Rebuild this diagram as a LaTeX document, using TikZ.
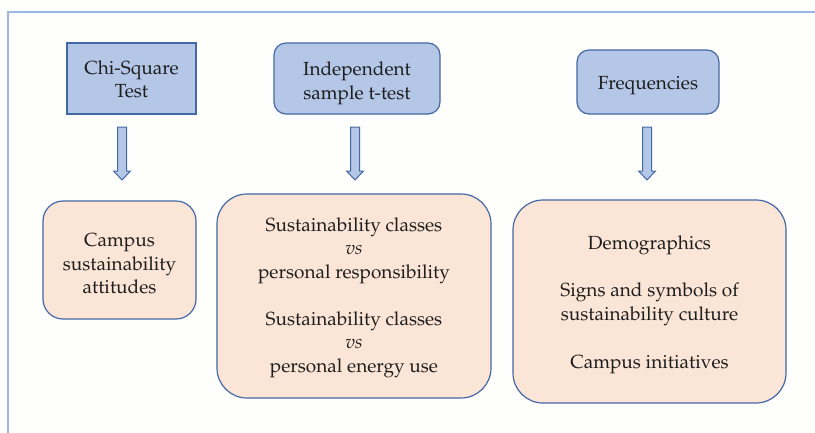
\documentclass[tikz,border=0pt]{standalone}
\usepackage[T1]{fontenc}
\renewcommand{\rmdefault}{ppl}
\usetikzlibrary{positioning}
\definecolor{pagebg}{HTML}{FEFEFC}
\definecolor{framecol}{HTML}{9DB7E3}
\definecolor{topfill}{HTML}{B4C7E7}
\definecolor{botfill}{HTML}{FBE5D6}
\definecolor{edgecol}{HTML}{4468A6}
\definecolor{inkcol}{HTML}{1E1E1E}
\tikzset{
  testbox/.style={draw=edgecol, fill=topfill, line width=1.2pt, inner sep=0pt},
  resultbox/.style={draw=edgecol, fill=botfill, line width=1.2pt, inner sep=0pt},
  boxtext/.style={align=center, text=inkcol, inner sep=0pt,
    font=\fontsize{19}{23.5}\selectfont},
  arrowstyle/.style={draw=edgecol, fill=topfill, line width=1pt, line join=miter},
  downarrow/.pic={
    \draw[arrowstyle] (-4.5,0) -- (4.5,0) -- (4.5,44) -- (8.5,44) -- (0,53)
      -- (-8.5,44) -- (-4.5,44) -- cycle;
  }
}
\begin{document}
\begin{tikzpicture}[x=1pt,y=-1pt]
  % page and outer frame
  \useasboundingbox (0,0) rectangle (815,432);
  \fill[pagebg] (0,0) rectangle (815,432);
  \begin{scope}
    \clip (0,0) rectangle (815,432);
    \draw[framecol, line width=1.3pt] (8,12) rectangle (840,460);
  \end{scope}

  % analysis methods
  \node[testbox, minimum width=129pt, minimum height=71pt] (chi) at (131.5,78.5) {};
  \node[testbox, rounded corners=12pt, minimum width=166pt, minimum height=71pt] (ttest) at (357,78.5) {};
  \node[testbox, rounded corners=12pt, minimum width=142pt, minimum height=64pt] (freq) at (648,82) {};
  \node[boxtext, yshift=-1pt] (chitxt) at (chi.center) {Chi-Square\\Test};
  \node[boxtext, yshift=-5pt] (ttesttxt) at (ttest.center) {Independent\\sample t-test};
  \node[boxtext, yshift=-3.5pt] (freqtxt) at (freq.center) {Frequencies};

  % variables examined by each method
  \node[resultbox, rounded corners=20pt, minimum width=153pt, minimum height=118pt] (campus) at (119.5,260) {};
  \node[resultbox, rounded corners=30pt, minimum width=274pt, minimum height=204pt] (classes) at (354,296) {};
  \node[resultbox, rounded corners=30pt, minimum width=273pt, minimum height=203pt] (culture) at (649.5,301.5) {};
  \node[boxtext, yshift=-4pt] (campustxt) at (campus.center)
    {Campus\\sustainability\\attitudes};
  \node[boxtext, yshift=-1.5pt] (classestxt) at (classes.center)
    {Sustainability classes\\\textit{vs}\\personal responsibility\\[23.5pt]
     Sustainability classes\\\textit{vs}\\personal energy use};
  \node[boxtext, yshift=-3.5pt] (culturetxt) at (culture.center)
    {Demographics\\[23.5pt]Signs and symbols of\\sustainability culture\\[24.5pt]Campus initiatives};

  % block arrows between method and variables
  \coordinate (a1) at (122,127);
  \coordinate (a2) at (355,127);
  \coordinate (a3) at (647,127);
  \pic at (a1) {downarrow};
  \pic at (a2) {downarrow};
  \pic at (a3) {downarrow};
\end{tikzpicture}
\end{document}
